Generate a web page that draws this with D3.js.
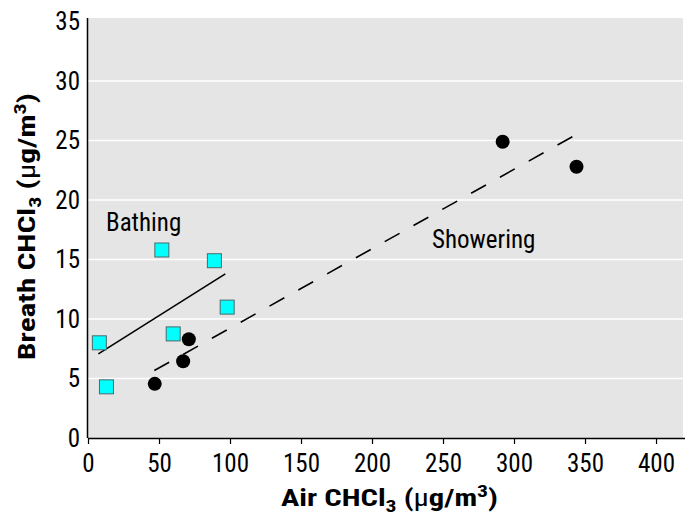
<!DOCTYPE html>
<html><head><meta charset="utf-8">
<script src="https://cdn.jsdelivr.net/npm/d3@7"></script>
<style>
body{margin:0;background:#fff;}
text{font-family:"Liberation Sans Narrow","Roboto Condensed","Arial Narrow",sans-serif;}
</style></head>
<body>
<svg id="chart" width="691" height="529"></svg>
<script>
const xTicks = [0, 50, 100, 150, 200, 250, 300, 350, 400];
const yTicks = [0, 5, 10, 15, 20, 25, 30, 35];
const bathingX = [8, 13, 52, 60, 89, 98];
const bathingY = [8.0, 4.3, 15.8, 8.75, 14.9, 11.0];
const showerX = [47, 67, 71, 292, 344];
const showerY = [4.55, 6.45, 8.3, 24.9, 22.8];
const bathFitX = [7.3, 96.7];
const bathFitY = [7.07, 13.8];
const showFitX = [46.7, 343.4];
const showFitY = [5.67, 25.48];

const svg = d3.select("#chart");
const L = 88, R = 683, T = 18, B = 438;
const x = d3.scaleLinear().domain([0, 419]).range([L, R]);
const y = d3.scaleLinear().domain([0, 35.3]).range([B, T]);

svg.append("rect").attr("x", L).attr("y", T).attr("width", R - L).attr("height", B - T).attr("fill", "#e5e5e5");

svg.append("g").selectAll("line").data(yTicks.filter(d => d > 0 && d < 35)).join("line")
  .attr("x1", L).attr("x2", R).attr("y1", d => y(d)).attr("y2", d => y(d))
  .attr("stroke", "#fff").attr("stroke-width", 1.6);

// x axis
const xa = svg.append("g").attr("transform", `translate(0,${B})`)
  .call(d3.axisBottom(x).tickValues(xTicks).tickSize(6).tickPadding(10).tickSizeOuter(0));
xa.select(".domain").attr("d", `M${L},0.5H${R+2}`).attr("stroke", "#000").attr("stroke-width", 1.5);
xa.selectAll(".tick line").attr("stroke", "#000").attr("stroke-width", 1.2);
xa.selectAll(".tick text").attr("font-size", 25).attr("fill", "#000")
  .attr("font-family", '"Liberation Sans Narrow",sans-serif');

// y axis
const ya = svg.append("g").attr("transform", `translate(${L},0)`)
  .call(d3.axisLeft(y).tickValues(yTicks).tickSize(0).tickPadding(8));
ya.select(".domain").attr("d", `M-0.5,${T}V${B}`).attr("stroke", "#000").attr("stroke-width", 1.5);
ya.selectAll(".tick text").attr("font-size", 25).attr("fill", "#000")
  .attr("font-family", '"Liberation Sans Narrow",sans-serif');

// fit lines
svg.append("line").attr("x1", x(bathFitX[0])).attr("y1", y(bathFitY[0]))
  .attr("x2", x(bathFitX[1])).attr("y2", y(bathFitY[1]))
  .attr("stroke", "#000").attr("stroke-width", 1.6);
svg.append("line").attr("x1", x(showFitX[0])).attr("y1", y(showFitY[0]))
  .attr("x2", x(showFitX[1])).attr("y2", y(showFitY[1]))
  .attr("stroke", "#000").attr("stroke-width", 1.6).attr("stroke-dasharray", "17,16");

// points
const s = 14;
svg.append("g").selectAll("rect").data(bathingX.map((d, i) => [d, bathingY[i]])).join("rect")
  .attr("x", d => x(d[0]) - s / 2).attr("y", d => y(d[1]) - s / 2)
  .attr("width", s).attr("height", s)
  .attr("fill", "#00ffff").attr("stroke", "#4a6a6a").attr("stroke-width", 1);
svg.append("g").selectAll("circle").data(showerX.map((d, i) => [d, showerY[i]])).join("circle")
  .attr("cx", d => x(d[0])).attr("cy", d => y(d[1])).attr("r", 7).attr("fill", "#000");

// labels
svg.append("text").attr("x", 106).attr("y", 230.5).attr("font-size", 25).text("Bathing");
svg.append("text").attr("x", 432).attr("y", 248).attr("font-size", 25).text("Showering");

// axis titles
function title(g, label) {
  const t = g.append("text").attr("x", 0).attr("y", 0).attr("text-anchor", "middle")
    .attr("font-size", 24).attr("font-weight", "bold");
  t.append("tspan").text(label + " CHCl");
  t.append("tspan").attr("font-size", 17).attr("dy", 6).text("3");
  t.append("tspan").attr("dy", -6).text(" (");
  t.append("tspan").attr("font-weight", "normal").text("μ");
  t.append("tspan").text("g/m");
  t.append("tspan").attr("font-size", 17).attr("dy", -9).text("3");
  t.append("tspan").attr("dy", 9).text(")");
  return t;
}
const xg = svg.append("g");
const xt = title(xg, "Air");
const xw = xt.node().getBBox().width;
xg.attr("transform", `translate(389.5,506) scale(${217 / xw},1)`);

const yg = svg.append("g");
const yt = title(yg, "Breath");
const yw = yt.node().getBBox().width;
yg.attr("transform", `translate(35,226.5) rotate(-90) scale(${267 / yw},1)`);
</script>
</body></html>
